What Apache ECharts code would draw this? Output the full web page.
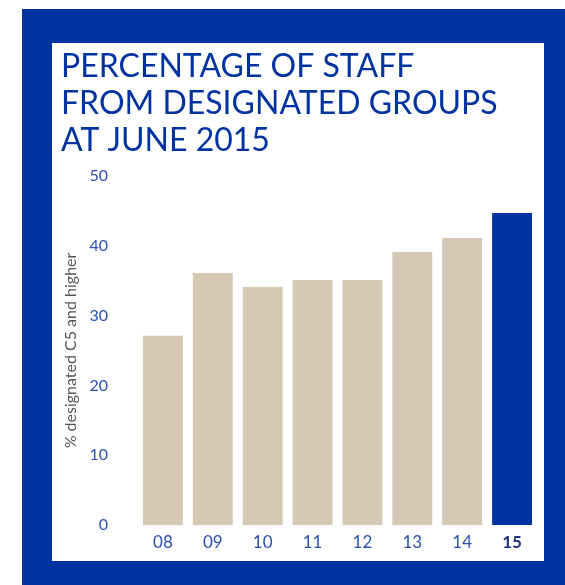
<!DOCTYPE html>
<html>
<head>
<meta charset="utf-8">
<script src="https://cdn.jsdelivr.net/npm/echarts@6/dist/echarts.min.js"></script>
<style>
  html, body { margin: 0; padding: 0; background: #ffffff; }
  #main { width: 565px; height: 585px; }
</style>
</head>
<body>
<div id="main"></div>
<script>
// data
var years = ['08', '09', '10', '11', '12', '13', '14', '15'];
var pctC5 = [27.1, 36.1, 34.1, 35.1, 35.1, 39.1, 41.1, 44.7];
var yMin = 0, yMax = 50, yStep = 10;

var BLUE = '#0033a0';
var BEIGE = '#d5c8b4';
var last = years.length - 1;

var myChart = echarts.init(document.getElementById('main'));

var option = {
    backgroundColor: '#ffffff',
    animation: false,
    // blue frame with white panel
    graphic: [
        { type: 'rect', shape: { x: 22, y: 9, width: 543, height: 576 }, style: { fill: BLUE }, z: -10 },
        { type: 'rect', shape: { x: 52, y: 43, width: 492, height: 518 }, style: { fill: '#ffffff' }, z: -9 }
    ],
    title: {
        text: 'PERCENTAGE OF STAFF\nFROM DESIGNATED GROUPS\nAT JUNE 2015',
        left: 61,
        top: 48,
        padding: 0,
        textStyle: {
            fontFamily: 'Lato',
            fontWeight: 'normal',
            fontSize: 32,
            lineHeight: 37,
            color: BLUE
        }
    },
    grid: {
        left: 138,
        right: 28,
        top: 176,
        bottom: 60
    },
    xAxis: {
        type: 'category',
        data: years,
        axisLine: { show: false },
        axisTick: { show: false },
        axisLabel: {
            interval: 0,
            margin: 9,
            fontFamily: 'Lato',
            fontSize: 17,
            color: '#2b50b0',
            formatter: function (v, i) {
                return i === last ? '{b|' + v + '}' : v;
            },
            rich: {
                b: { fontFamily: 'Lato', fontSize: 17, fontWeight: 'bold', color: '#1a2f80' }
            }
        }
    },
    yAxis: {
        type: 'value',
        min: yMin,
        max: yMax,
        interval: yStep,
        name: '% designated C5 and higher',
        nameLocation: 'middle',
        nameGap: 58,
        nameTextStyle: {
            fontFamily: 'Lato',
            fontSize: 16,
            color: '#555555'
        },
        axisLine: { show: false },
        axisTick: { show: false },
        splitLine: { show: false },
        axisLabel: {
            margin: 30,
            fontFamily: 'Lato',
            fontSize: 16,
            color: '#2b50b0'
        }
    },
    series: [
        {
            type: 'bar',
            barCategoryGap: '20%',
            data: pctC5.map(function (v, i) {
                return { value: v, itemStyle: { color: i === last ? BLUE : BEIGE } };
            })
        }
    ]
};

myChart.setOption(option);
</script>
</body>
</html>
